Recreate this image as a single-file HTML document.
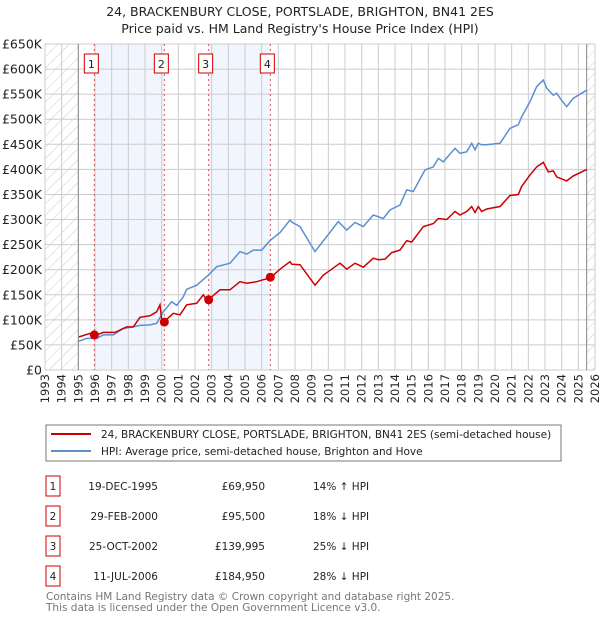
<!DOCTYPE html>
<html><head><meta charset="utf-8"><style>
body{margin:0;background:#fff;width:600px;height:620px;overflow:hidden;font-family:"DejaVu Sans","Liberation Sans",sans-serif;}
svg text{font-family:"DejaVu Sans","Liberation Sans",sans-serif;}
</style></head><body>
<svg id="c" width="600" height="620" xmlns="http://www.w3.org/2000/svg">
<defs>
<pattern id="hatch" width="8" height="8" patternUnits="userSpaceOnUse" patternTransform="rotate(45)">
<line x1="0" y1="0" x2="0" y2="8" stroke="#ccc" stroke-width="1"/></pattern>
<clipPath id="pc"><rect x="45" y="44" width="550" height="326"/></clipPath>
</defs>
<text x="300" y="16" text-anchor="middle" font-size="12.5" fill="#222">24, BRACKENBURY CLOSE, PORTSLADE, BRIGHTON, BN41 2ES</text>
<text x="300" y="33" text-anchor="middle" font-size="12.5" fill="#222">Price paid vs. HM Land Registry's House Price Index (HPI)</text>
<g id="plot"></g>
<g id="legend">
<rect x="46" y="425" width="515" height="36" fill="#fff" stroke="#777"/>
<line x1="51" y1="434" x2="91" y2="434" stroke="#cc0000" stroke-width="2"/>
<text x="101" y="438" font-size="10.5" fill="#222">24, BRACKENBURY CLOSE, PORTSLADE, BRIGHTON, BN41 2ES (semi-detached house)</text>
<line x1="51" y1="451" x2="91" y2="451" stroke="#5b8fd0" stroke-width="2"/>
<text x="101" y="455" font-size="10.5" fill="#222">HPI: Average price, semi-detached house, Brighton and Hove</text>
</g>
<g id="table"></g>
<text x="46" y="600" font-size="10.5" fill="#777">Contains HM Land Registry data © Crown copyright and database right 2025.</text>
<text x="46" y="611" font-size="10.5" fill="#777">This data is licensed under the Open Government Licence v3.0.</text>
</svg>
<script>
const hpiYears=[1995.0,1995.5,1996.1,1996.5,1997.1,1997.7,1998.3,1998.7,1999.3,1999.7,2000.1,2000.6,2000.9,2001.3,2001.5,2002.1,2002.8,2003.3,2004.1,2004.7,2005.1,2005.5,2006.0,2006.5,2007.1,2007.7,2007.8,2008.3,2009.2,2010.2,2010.6,2011.1,2011.6,2012.1,2012.7,2013.3,2013.7,2014.3,2014.7,2015.1,2015.8,2016.3,2016.6,2016.9,2017.6,2017.9,2018.3,2018.6,2018.8,2019.0,2019.2,2019.5,2020.3,2020.9,2021.4,2021.6,2022.1,2022.5,2022.9,2023.1,2023.5,2023.7,2023.9,2024.3,2024.7,2025.2,2025.5];
const hpiValues=[57,63,63,70,70,83,86,89,90,93,116,136,129,146,161,169,189,206,213,236,231,239,239,258,274,299,295,286,236,279,296,279,294,286,309,302,319,329,359,356,399,405,422,415,442,432,435,452,439,452,449,449,452,482,489,505,535,565,578,562,548,552,542,525,542,552,558];
const propYears=[1995.04,1995.7,1996.1,1996.5,1997.2,1997.9,1998.3,1998.7,1999.3,1999.7,1999.9,2000.0,2000.1,2000.7,2001.1,2001.5,2002.1,2002.5,2002.6,2002.8,2003.5,2004.1,2004.7,2005.1,2005.7,2006.1,2006.5,2007.1,2007.7,2007.8,2008.3,2009.2,2009.7,2010.2,2010.7,2011.1,2011.6,2012.1,2012.7,2013.0,2013.4,2013.8,2014.3,2014.7,2015.0,2015.7,2016.3,2016.6,2017.1,2017.6,2017.9,2018.3,2018.6,2018.8,2019.0,2019.2,2019.5,2020.3,2020.9,2021.4,2021.6,2022.1,2022.5,2022.9,2023.2,2023.5,2023.7,2024.3,2024.7,2025.2,2025.5];
const propValues=[66,73,70,75,75,86,86,105,108,116,130,100,95,113,110,130,133,150,145,140,160,160,176,173,176,180,183,201,216,211,210,169,189,201,213,201,213,205,223,220,221,234,239,258,255,286,292,302,300,316,309,316,326,314,326,316,321,326,348,350,366,389,405,414,395,397,385,377,387,395,400];
const saleYears=[1995.96,2000.16,2002.82,2006.52];
const saleValues=[69.95,95.5,139.995,184.95];
const saleLabels=["1","2","3","4"];
const saleDates=["19-DEC-1995","29-FEB-2000","25-OCT-2002","11-JUL-2006"];
const salePrices=["£69,950","£95,500","£139,995","£184,950"];
const saleHpi=["14% ↑ HPI","18% ↓ HPI","25% ↓ HPI","28% ↓ HPI"];
const yTicks=[0,50,100,150,200,250,300,350,400,450,500,550,600,650];
const yTickLabels=["£0","£50K","£100K","£150K","£200K","£250K","£300K","£350K","£400K","£450K","£500K","£550K","£600K","£650K"];
const xTicks=[1993,1994,1995,1996,1997,1998,1999,2000,2001,2002,2003,2004,2005,2006,2007,2008,2009,2010,2011,2012,2013,2014,2015,2016,2017,2018,2019,2020,2021,2022,2023,2024,2025,2026];

const NS="http://www.w3.org/2000/svg";
const L=45,R=595,T=44,B=370;
const xs=y=>L+(y-1993)/33*(R-L);
const ys=v=>B-v/650*(B-T);
function mk(tag,attrs,parent){const e=document.createElementNS(NS,tag);for(const k in attrs)e.setAttribute(k,attrs[k]);parent.appendChild(e);return e;}
const plot=document.getElementById('plot');
let e;
e=mk('rect',{x:L,y:T,width:R-L,height:B-T,fill:'#fff'},plot);


for(let i=0;i<saleYears.length;i+=2){
 e=mk('rect',{x:xs(saleYears[i]),y:T,width:xs(saleYears[i+1])-xs(saleYears[i]),height:B-T,fill:'#f1f5fd'},plot);
 
 
}
e=mk('rect',{x:xs(1993),y:T,width:xs(1995)-xs(1993),height:B-T,fill:'url(#hatch)'},plot);


e=mk('rect',{x:xs(2025.5),y:T,width:R-xs(2025.5),height:B-T,fill:'url(#hatch)'},plot);


xTicks.forEach(t=>{
 e=mk('line',{x1:xs(t),x2:xs(t),y1:T,y2:B,stroke:'#ccc','stroke-width':1},plot);
 
 
 e=mk('text',{x:0,y:0,transform:`translate(${xs(t)+4},${B+4}) rotate(-90)`,'text-anchor':'end','font-size':'11.5',fill:'#222'},plot);
 e.textContent=t;
 
 
});
yTicks.forEach((t,i)=>{
 e=mk('line',{x1:L,x2:R,y1:ys(t),y2:ys(t),stroke:'#ccc','stroke-width':1},plot);
 
 
 e=mk('text',{x:42,y:ys(t)+4.5,'text-anchor':'end','font-size':'12.5',fill:'#222'},plot);
 e.textContent=yTickLabels[i];
 
 
});
e=mk('line',{x1:xs(1995),x2:xs(1995),y1:T,y2:B,stroke:'#888'},plot);


e=mk('line',{x1:xs(2025.5),x2:xs(2025.5),y1:T,y2:B,stroke:'#888'},plot);


saleYears.forEach((y,i)=>{
 const x=xs(y);
 e=mk('line',{x1:x,x2:x,y1:T,y2:B,stroke:'#e05050','stroke-width':1,'stroke-dasharray':'2,3'},plot);
 
 
 e=mk('rect',{x:x-10,y:54,width:14,height:19,fill:'#fff',stroke:'#cc0000'},plot);
 
 
 e=mk('text',{x:x-3,y:68,'text-anchor':'middle','font-size':'11',fill:'#222'},plot);
 e.textContent=saleLabels[i];
 
 
});
const pts=(xa,va)=>xa.map((y,i)=>xs(y).toFixed(1)+','+ys(va[i]).toFixed(1)).join(' ');
e=mk('polyline',{points:pts(hpiYears,hpiValues),fill:'none',stroke:'#5b8fd0','stroke-width':1.5,'clip-path':'url(#pc)'},plot);


e=mk('polyline',{points:pts(propYears,propValues),fill:'none',stroke:'#cc0000','stroke-width':1.5,'clip-path':'url(#pc)'},plot);


saleYears.forEach((y,i)=>{
 e=mk('circle',{cx:xs(y),cy:ys(saleValues[i]),r:4.5,fill:'#cc0000'},plot);
 
 
});
const tb=document.getElementById('table');
saleLabels.forEach((l,i)=>{
 const y0=476+i*30;
 e=mk('rect',{x:46,y:y0,width:14,height:20,fill:'#fff',stroke:'#cc0000'},tb);
 
 
 e=mk('text',{x:53,y:y0+14,'text-anchor':'middle','font-size':'10.5',fill:'#222'},tb);
 e.textContent=l;
 
 
 e=mk('text',{x:158,y:y0+14,'text-anchor':'end','font-size':'10.5',fill:'#222'},tb);
 e.textContent=saleDates[i];
 
 
 e=mk('text',{x:265,y:y0+14,'text-anchor':'end','font-size':'10.5',fill:'#222'},tb);
 e.textContent=salePrices[i];
 
 
 e=mk('text',{x:313,y:y0+14,'font-size':'10.5',fill:'#222'},tb);
 e.textContent=saleHpi[i];
 
 
});
</script>
</body></html>
